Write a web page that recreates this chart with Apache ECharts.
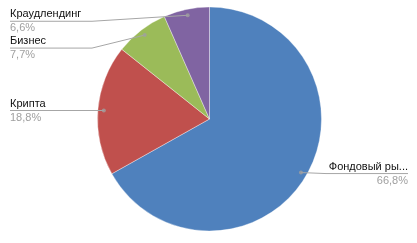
<!DOCTYPE html>
<html><head><meta charset="utf-8">
<script src="https://cdn.jsdelivr.net/npm/echarts@6/dist/echarts.min.js"></script>
<style>html,body{margin:0;padding:0;background:#fff;}#c{width:417px;height:243px;}</style>
</head><body><div id="c"></div>
<script>
const categories = ['Фондовый рынок', 'Крипта', 'Бизнес', 'Краудлендинг'];
const values = [66.8, 18.8, 7.7, 6.6];
const colors = ['#4F81BD', '#C0504D', '#9BBB59', '#8064A2'];

const CX = 209.5, CY = 119, R = 112, RD = 106;
const LEFT_X = 10, RIGHT_X = 408, LABEL_W = 80, LINE_W = 82;
const labelYOffset = [1, 0, 13, 6];
const total = values.reduce((a, b) => a + b, 0);
let acc = 0;
const dots = values.map(v => { const m = acc + v / 2; acc += v; return [RD, m]; });
const pieData = categories.map((c, i) => ({ name: c, value: values[i] }));
const FONT = 'Liberation Sans';

const ctx = document.createElement('canvas').getContext('2d');
ctx.font = '11px "' + FONT + '"';
function fit(text, w) {
  if (ctx.measureText(text).width <= w) return text;
  let s = text;
  while (s.length > 1 && ctx.measureText(s + '...').width > w) s = s.slice(0, -1);
  return s + '...';
}

const chart = echarts.init(document.getElementById('c'), null, { renderer: 'canvas' });
chart.setOption({
  animation: false,
  color: colors,
  polar: { center: [CX, CY], radius: R },
  angleAxis: { type: 'value', min: 0, max: total, startAngle: 90, clockwise: true, show: false },
  radiusAxis: { type: 'value', min: 0, max: R, show: false },
  series: [
    {
      type: 'pie', center: [CX, CY], radius: R, startAngle: 90, clockwise: true,
      data: pieData, silent: true, label: { show: false }, labelLine: { show: false },
      itemStyle: { borderColor: 'rgba(255,255,255,0.6)', borderWidth: 0.6 }, z: 1
    },
    {
      type: 'pie', center: [CX, CY], radius: RD, startAngle: 90, clockwise: true,
      data: pieData, silent: true, z: 2,
      itemStyle: { color: 'rgba(0,0,0,0)' },
      label: {
        show: true, position: 'outside', alignTo: 'none',
        fontFamily: FONT,
        formatter: p => '{n|' + fit(p.name, LABEL_W) + '}\n{v|' + p.value.toFixed(1).replace('.', ',') + '%}',
        rich: {
          n: { color: '#111', fontSize: 11, lineHeight: 14, fontFamily: FONT },
          v: { color: '#a0a0a0', fontSize: 11, lineHeight: 14, fontFamily: FONT }
        }
      },
      labelLine: { show: true, length: 2, length2: 2, lineStyle: { color: '#a6a6a6', width: 1 } },
      labelLayout: function (params) {
        const pts = params.labelLinePoints;
        if (!pts) return {};
        const start = pts[0];
        const isLeft = start[0] < CX;
        const y = start[1] + labelYOffset[params.dataIndex];
        const far = isLeft ? LEFT_X : RIGHT_X;
        const near = isLeft ? far + LINE_W : far - LINE_W;
        return {
          x: far, y: y, align: isLeft ? 'left' : 'right', verticalAlign: 'middle',
          labelLinePoints: [start, [near, y], [far, y]]
        };
      }
    },
    {
      type: 'scatter', coordinateSystem: 'polar', data: dots, symbolSize: 4, silent: true,
      itemStyle: { color: '#a0a0a0' }, z: 5
    }
  ]
});
</script></body></html>
